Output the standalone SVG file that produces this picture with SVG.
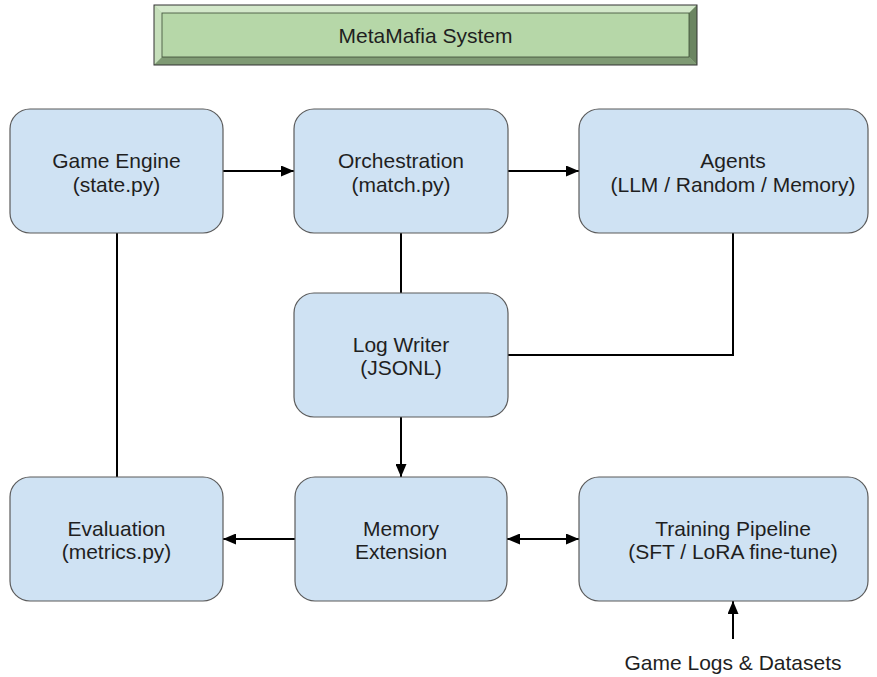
<svg xmlns="http://www.w3.org/2000/svg" width="877" height="677" viewBox="0 0 877 677">
<style>
.node rect{fill:#cfe2f3;stroke:#5b5b5b;stroke-width:1.2}
text{font-family:"Liberation Sans",Arial,sans-serif;font-size:21px;fill:#1f1f1f;text-anchor:middle}
.c{fill:none;stroke:#000;stroke-width:2}
</style>
<defs>
<marker id="ah" viewBox="0 0 13 11" refX="13" refY="5.5" markerWidth="13" markerHeight="11" markerUnits="userSpaceOnUse" orient="auto-start-reverse">
<path d="M0,0 L13,5.5 L0,11 Z" fill="#000"/>
</marker>
</defs>
<rect width="877" height="677" fill="#fff"/>
<g id="title">
<rect x="154" y="5" width="543" height="60" fill="#b6d7a8"/>
<polygon points="154,5 697,5 689,13 162,13" fill="#d3e8ca"/>
<polygon points="154,5 162,13 162,57 154,65" fill="#c6dfbb"/>
<polygon points="154,65 162,57 689,57 697,65" fill="#7f9a74"/>
<polygon points="697,5 697,65 689,57 689,13" fill="#6b8561"/>
<rect x="162" y="13" width="527" height="44" fill="#b6d7a8" stroke="#3a4a34" stroke-width="0.8"/>
<rect x="154" y="5" width="543" height="60" fill="none" stroke="#333" stroke-width="1"/>
<text x="425.5" y="43">MetaMafia System</text>
</g>
<g class="c">
<line x1="223" y1="171" x2="294" y2="171" marker-end="url(#ah)"/>
<line x1="508" y1="171" x2="579" y2="171" marker-end="url(#ah)"/>
<line x1="401" y1="233" x2="401" y2="293"/>
<polyline points="733,233 733,355 508,355"/>
<line x1="401" y1="417" x2="401" y2="477" marker-end="url(#ah)"/>
<line x1="117" y1="233" x2="117" y2="477"/>
<line x1="295" y1="539" x2="223" y2="539" marker-end="url(#ah)"/>
<line x1="507" y1="539" x2="579" y2="539" marker-start="url(#ah)" marker-end="url(#ah)"/>
<line x1="733" y1="639" x2="733" y2="601" marker-end="url(#ah)"/>
</g>
<g id="game-engine" class="node">
<rect x="10" y="109" width="213" height="124" rx="20"/>
<text x="116.5" y="168">Game Engine</text>
<text x="116.5" y="191.5">(state.py)</text>
</g>
<g id="orchestration" class="node">
<rect x="294" y="109" width="214" height="124" rx="20"/>
<text x="401" y="168">Orchestration</text>
<text x="401" y="191.5">(match.py)</text>
</g>
<g id="agents" class="node">
<rect x="579" y="109" width="289" height="124" rx="20"/>
<text x="733" y="168">Agents</text>
<text x="733" y="191.5">(LLM / Random / Memory)</text>
</g>
<g id="log-writer" class="node">
<rect x="294" y="293" width="214" height="124" rx="20"/>
<text x="401" y="351.5">Log Writer</text>
<text x="401" y="375">(JSONL)</text>
</g>
<g id="evaluation" class="node">
<rect x="10" y="477" width="213" height="124" rx="20"/>
<text x="116.5" y="535.5">Evaluation</text>
<text x="116.5" y="559">(metrics.py)</text>
</g>
<g id="memory-extension" class="node">
<rect x="295" y="477" width="212" height="124" rx="20"/>
<text x="401" y="535.5">Memory</text>
<text x="401" y="559">Extension</text>
</g>
<g id="training-pipeline" class="node">
<rect x="579" y="477" width="289" height="124" rx="20"/>
<text x="733" y="535.5">Training Pipeline</text>
<text x="733" y="559">(SFT / LoRA fine-tune)</text>
</g>
<g id="game-logs">
<text x="733" y="670">Game Logs &amp; Datasets</text>
</g>
</svg>
